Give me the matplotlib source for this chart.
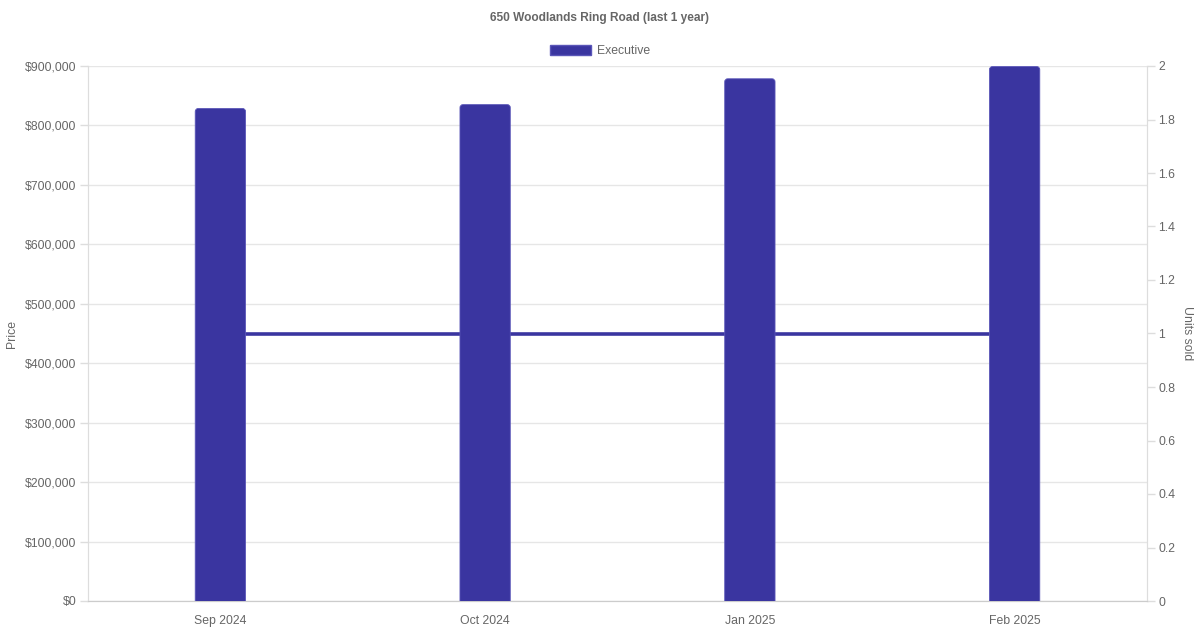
import matplotlib
matplotlib.use("Agg")
import matplotlib.pyplot as plt
from matplotlib.patches import FancyBboxPatch
from matplotlib.ticker import FuncFormatter, MultipleLocator

plt.rcParams['font.family'] = ['Liberation Sans', 'DejaVu Sans']

categories = ["Sep 2024", "Oct 2024", "Jan 2025", "Feb 2025"]
prices = [828500, 835000, 878500, 899000]
units_sold = [1, 1, 1, 1]
title = "650 Woodlands Ring Road (last 1 year)"
series_name = "Executive"

bar_color = "#3A35A0"
text_color = "#666666"
grid_color = "#e6e6e6"

W, H = 1200, 630
L, R, T, B = 88, 1147, 66, 601
FS = 8.8

fig = plt.figure(figsize=(12, 6.3), dpi=100)
ax = fig.add_axes([L/W, (H-B)/H, (R-L)/W, (B-T)/H])
ax2 = ax.twinx()

x = list(range(len(categories)))
bars = ax.bar(x, prices, width=0.19, color=bar_color, zorder=3)

ax.set_xlim(-0.5, len(categories) - 0.5)
ax.set_ylim(0, 900000)
# round the top corners of each bar
rx = 3 / ((R - L) / len(categories))
ry = 3 / (B - T) * 900000
for b in bars:
    x0, w, h = b.get_x(), b.get_width(), b.get_height()
    p = FancyBboxPatch((x0, -2 * ry), w, h + 2 * ry,
                       boxstyle=f"round,pad=0,rounding_size={rx}",
                       mutation_aspect=ry / rx,
                       facecolor=bar_color, edgecolor="#5a56b8", linewidth=0.6,
                       zorder=3, clip_on=True)
    ax.add_patch(p)
    b.set_visible(False)

ax2.plot(x, units_sold, color=bar_color, linewidth=2.6, zorder=1)
ax2.set_ylim(0, 2)

ax.set_zorder(ax2.get_zorder() + 1)
ax.patch.set_visible(False)

ax.yaxis.set_major_locator(MultipleLocator(100000))
ax.yaxis.set_major_formatter(FuncFormatter(lambda v, p: f"${int(round(v)):,}"))
ax2.yaxis.set_major_locator(MultipleLocator(0.2))
ax2.yaxis.set_major_formatter(FuncFormatter(lambda v, p: (f"{v:.1f}".rstrip('0').rstrip('.')) if abs(v) > 1e-9 else "0"))

ax.set_xticks(x)
ax.set_xticklabels(categories)

ax.grid(axis='y', color=grid_color, linewidth=1, zorder=0)
ax.set_axisbelow(True)

for a in (ax, ax2):
    a.spines['top'].set_visible(False)
    a.spines['left'].set_color("#dddddd")
    a.spines['right'].set_color("#dddddd")
    a.spines['bottom'].set_color("#cccccc")
    a.tick_params(colors=text_color, labelsize=FS, length=5.8, width=1)
    a.tick_params(axis='both', color="#dddddd")
ax.tick_params(axis='x', length=0, pad=10)
ax.tick_params(axis='y', pad=2.4)
ax2.tick_params(axis='y', pad=2.4)

ax.set_ylabel("Price", color=text_color, fontsize=FS)
ax.yaxis.label.set_va('center')
ax.yaxis.set_label_coords((12 - L) / (R - L), 0.5)
ax2.set_ylabel("Units sold", color=text_color, fontsize=FS, rotation=-90)
ax2.yaxis.label.set_va('center')
ax2.yaxis.set_label_coords(1 + (1187 - R) / (R - L), 0.5)

fig.text(0.5, 1 - 17.5/H, title, ha='center', va='center', fontsize=8.6,
         fontweight='bold', color=text_color)

# legend
ax.legend([FancyBboxPatch((0, 0), 1, 1, facecolor=bar_color, edgecolor="#5a56b8")],
          [series_name], loc='center', bbox_to_anchor=(0.5, 1 - 51/H),
          bbox_transform=fig.transFigure, frameon=False, fontsize=FS,
          handlelength=3.3, handleheight=0.97, handletextpad=0.5,
          labelcolor=text_color)

fig.savefig("out.png", dpi=100)
